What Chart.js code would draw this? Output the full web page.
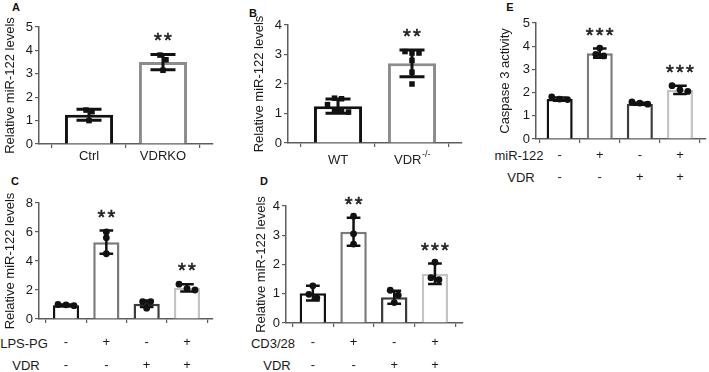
<!DOCTYPE html>
<html><head><meta charset="utf-8">
<script src="https://cdn.jsdelivr.net/npm/chart.js@4/dist/chart.umd.min.js"></script>
<style>
html,body{margin:0;padding:0;background:#fff;width:709px;height:372px;overflow:hidden;position:relative;font-family:"Liberation Sans",Arial,sans-serif;}
canvas{position:absolute;left:0;top:0;}
.lbl{position:absolute;font-size:13px;color:#1a1a1a;transform:translate(-50%,-50%);white-space:nowrap;line-height:1;}
.pl{position:absolute;font-size:11px;font-weight:bold;color:#111;transform:translate(-50%,-50%);line-height:1;}
</style></head><body>
<div class="pl" style="left:16px;top:7px">A</div>
<div class="pl" style="left:253px;top:13px">B</div>
<div class="pl" style="left:15px;top:181px">C</div>
<div class="pl" style="left:264px;top:181px">D</div>
<div class="pl" style="left:510px;top:7px">E</div>
<div class="lbl" style="left:24px;top:343px">LPS-PG</div>
<div class="lbl" style="left:26px;top:365px">VDR</div>
<div class="lbl" style="left:273px;top:343px">CD3/28</div>
<div class="lbl" style="left:277px;top:365px">VDR</div>
<div class="lbl" style="left:519px;top:155px">miR-122</div>
<div class="lbl" style="left:521px;top:177px">VDR</div>
<script>
// ---------------- data ----------------
const catsA = ['Ctrl', 'VDRKO'];
const meansA = [1.25, 3.5];
const sdA = [0.24, 0.33];
const ptsA = [[1.45, 1.38, 1.0], [3.8, 3.6, 3.15]];
const starsA = ['', '**'];
const yTicksA = [0, 1, 2, 3, 4, 5];

const catsB = ['WT', 'VDR'];
const supB = ['', '-/-'];
const meansB = [1.25, 2.7];
const sdB = [0.24, 0.45];
const ptsB = [[1.52, 1.5, 1.3, 1.12, 1.05, 1.1], [3.05, 3.1, 3.05, 2.8, 2.4, 2.0]];
const starsB = ['', '**'];
const yTicksB = [0, 1, 2, 3, 4];

const rowC1 = ['-', '+', '-', '+'];   // LPS-PG
const rowC2 = ['-', '-', '+', '+'];   // VDR
const meansC = [0.95, 5.3, 1.05, 2.15];
const sdC = [0.05, 0.8, 0.22, 0.25];
const ptsC = [[1.0, 0.98, 0.92], [6.0, 5.6, 4.5], [1.2, 1.2, 0.75], [2.4, 2.0, 2.1]];
const starsC = ['', '**', '', '**'];
const yTicksC = [0, 2, 4, 6, 8];

const rowD1 = ['-', '+', '-', '+'];   // CD3/28
const rowD2 = ['-', '-', '+', '+'];   // VDR
const meansD = [1.02, 3.12, 0.88, 1.68];
const sdD = [0.25, 0.48, 0.22, 0.35];
const ptsD = [[1.27, 0.86, 0.98], [3.65, 3.05, 2.7], [1.12, 0.95, 0.7], [2.08, 1.48, 1.55]];
const starsD = ['', '**', '', '***'];
const yTicksD = [0, 1, 2, 3, 4];

const rowE1 = ['-', '+', '-', '+'];   // miR-122
const rowE2 = ['-', '-', '+', '+'];   // VDR
const meansE = [1.72, 3.7, 1.52, 2.12];
const sdE = [0.07, 0.2, 0.04, 0.18];
const ptsE = [[1.82, 1.7, 1.72], [3.92, 3.58, 3.65], [1.6, 1.55, 1.5], [2.3, 2.05, 2.12]];
const starsE = ['', '***', '', '***'];
const yTicksE = [0, 1, 2, 3, 4, 5];

// ---------------- drawing ----------------
Chart.defaults.font.family = '"Liberation Sans", Arial, sans-serif';
const AX = '#5e5e5e';
const C2 = ['#111111', '#8c8c8c'];
const C4 = ['#111111', '#7a7a7a', '#3c3c3c', '#c4c4c4'];

function swarm(vals, pxY, d, thr) {
  const idx = vals.map((v, i) => i).sort((a, b) => vals[b] - vals[a]);
  const offs = new Array(vals.length).fill(0);
  let row = [idx[0]];
  const flush = () => row.forEach((j, k) => { offs[j] = (k - (row.length - 1) / 2) * d; });
  for (let m = 1; m < idx.length; m++) {
    if ((vals[row[row.length - 1]] - vals[idx[m]]) * pxY <= thr) row.push(idx[m]);
    else { flush(); row = [idx[m]]; }
  }
  flush();
  return offs;
}

function decor(cfg) {
  return {
    id: 'decor',
    beforeDatasetDraw(chart, args) {
      if (args.index !== 1) return;
      const ctx = chart.ctx, xs = chart.scales.x, ys = chart.scales.y;
      const bars = chart.getDatasetMeta(0).data;
      ctx.save();
      ctx.strokeStyle = '#111'; ctx.lineWidth = cfg.ew; ctx.lineCap = 'butt';
      cfg.means.forEach((m, i) => {
        const x = xs.getPixelForValue(i);
        const yt = ys.getPixelForValue(m + cfg.sd[i]);
        const yb = ys.getPixelForValue(m - cfg.sd[i]);
        const cw = bars[i].width * 0.52 / 2;
        ctx.beginPath();
        ctx.moveTo(x, yt); ctx.lineTo(x, yb);
        ctx.moveTo(x - cw, yt); ctx.lineTo(x + cw, yt);
        ctx.moveTo(x - cw, yb); ctx.lineTo(x + cw, yb);
        ctx.stroke();
      });
      ctx.restore();
    },
    afterDatasetsDraw(chart) {
      const ctx = chart.ctx, xs = chart.scales.x, ys = chart.scales.y;
      ctx.save();
      ctx.fillStyle = '#222'; ctx.strokeStyle = '#222'; ctx.lineWidth = 0.6;
      ctx.font = '20px "Liberation Sans", Arial, sans-serif';
      ctx.textAlign = 'center'; ctx.textBaseline = 'alphabetic';
      const mt = ctx.measureText('*');
      const cOff = (mt.actualBoundingBoxAscent - mt.actualBoundingBoxDescent) / 2;
      cfg.stars.forEach((s, i) => {
        if (!s) return;
        const x = xs.getPixelForValue(i);
        const yc = ys.getPixelForValue(cfg.means[i] + cfg.sd[i]) - 17;
        for (let k = 0; k < s.length; k++) {
          const sx = x + (k - (s.length - 1) / 2) * 10;
          ctx.fillText('*', sx, yc + cOff);
          ctx.strokeText('*', sx, yc + cOff);
        }
      });
      if (cfg.sup) {
        ctx.fillStyle = '#222';
        ctx.textAlign = 'left'; ctx.textBaseline = 'middle';
        const yl = chart.chartArea.bottom + 17;
        cfg.cats.forEach((c, i) => {
          const x = xs.getPixelForValue(i);
          ctx.font = '13px "Liberation Sans", Arial, sans-serif';
          const w1 = ctx.measureText(c).width;
          ctx.font = '9px "Liberation Sans", Arial, sans-serif';
          const w2 = cfg.sup[i] ? ctx.measureText(cfg.sup[i]).width : 0;
          const x0 = x - (w1 + w2) / 2;
          ctx.font = '13px "Liberation Sans", Arial, sans-serif';
          ctx.fillText(c, x0, yl);
          if (cfg.sup[i]) {
            ctx.font = '9px "Liberation Sans", Arial, sans-serif';
            ctx.fillText(cfg.sup[i], x0 + w1 + 0.5, yl - 5);
          }
        });
      }
      ctx.restore();
    }
  };
}

function makePanel(cfg) {
  const cv = document.createElement('canvas');
  cv.width = 709; cv.height = 372;
  document.body.appendChild(cv);
  const yMin = cfg.yTicks[0], yMax = cfg.yTicks[cfg.yTicks.length - 1];
  const pxX = (cfg.R - cfg.L) / (cfg.xMax - cfg.xMin);
  const pxY = (cfg.B - cfg.T) / (yMax - yMin);
  const scatter = [];
  cfg.pts.forEach((grp, i) => {
    const offs = swarm(grp, pxY, cfg.dot, 5.5);
    grp.forEach((v, k) => scatter.push({ x: i + offs[k] / pxX, y: v }));
  });
  const gridOpt = { display: true, drawOnChartArea: false, drawTicks: true, tickLength: 4, color: AX, lineWidth: 1.2 };
  const borderOpt = { display: true, color: AX, width: 1.5 };
  new Chart(cv, {
    type: 'bar',
    data: {
      datasets: [
        { type: 'bar', data: cfg.means.map((v, i) => ({ x: i, y: v })), backgroundColor: '#ffffff',
          borderColor: cfg.colors, borderWidth: cfg.bw, barPercentage: 0.65, categoryPercentage: 1, order: 2 },
        { type: 'scatter', data: scatter, pointStyle: cfg.ps, pointRadius: cfg.pr, pointHoverRadius: cfg.pr,
          backgroundColor: '#111', borderColor: '#111', borderWidth: 0, order: 1 }
      ]
    },
    options: {
      responsive: false, animation: false, events: [],
      layout: { padding: { left: cfg.L - cfg.W, right: 709 - cfg.R, top: cfg.T, bottom: 372 - cfg.B - cfg.H } },
      plugins: { legend: { display: false }, tooltip: { enabled: false } },
      scales: {
        x: {
          type: 'linear', min: cfg.xMin, max: cfg.xMax, offset: false,
          afterBuildTicks: s => { s.ticks = cfg.means.map((_, i) => ({ value: i })); },
          afterFit: s => { s.height = cfg.H; },
          ticks: { callback: (v, i) => cfg.xLabels[i], autoSkip: false, maxRotation: 0, minRotation: 0,
                   color: '#1a1a1a', font: { size: 13, lineHeight: cfg.lh }, padding: cfg.xPad },
          grid: gridOpt, border: borderOpt
        },
        y: {
          type: 'linear', min: yMin, max: yMax,
          afterBuildTicks: s => { s.ticks = cfg.yTicks.map(v => ({ value: v })); },
          afterFit: s => { s.width = cfg.W; },
          ticks: { color: '#1a1a1a', font: { size: 13 }, padding: 2 },
          grid: gridOpt, border: borderOpt,
          title: { display: true, text: cfg.yTitle, color: '#1a1a1a', font: { size: 13 }, padding: { top: 2.5, bottom: 0 } }
        }
      }
    },
    plugins: [decor(cfg)]
  });
}

const TITLE = 'Relative miR-122 levels';

makePanel({ L: 39, R: 213, T: 27, B: 144, W: 39, H: 30, xMin: -0.676, xMax: 1.676, xPad: 1, lh: 1.2,
  cats: catsA, xLabels: catsA, means: meansA, sd: sdA, pts: ptsA, stars: starsA, yTicks: yTicksA,
  colors: C2, bw: 3, ew: 3, ps: 'rect', pr: 3.9, dot: 6, yTitle: TITLE });

makePanel({ L: 288, R: 462, T: 25, B: 143, W: 39, H: 30, xMin: -0.676, xMax: 1.676, xPad: 5, lh: 1.2,
  cats: catsB, sup: supB, xLabels: catsB.map(() => ''), means: meansB, sd: sdB, pts: ptsB, stars: starsB, yTicks: yTicksB,
  colors: C2, bw: 3, ew: 3, ps: 'rect', pr: 3.9, dot: 7, yTitle: TITLE });

makePanel({ L: 39, R: 213, T: 203, B: 319, W: 39, H: 50, xMin: -0.67, xMax: 3.645, xPad: 8.5, lh: 1.715,
  cats: rowC1, xLabels: rowC1.map((s, i) => [s, rowC2[i]]), means: meansC, sd: sdC, pts: ptsC, stars: starsC, yTicks: yTicksC,
  colors: C4, bw: 2.5, ew: 2.5, ps: 'circle', pr: 3.4, dot: 8, yTitle: TITLE });

makePanel({ L: 286, R: 463, T: 206, B: 323, W: 35, H: 48, xMin: -0.66, xMax: 3.69, xPad: 4.5, lh: 1.715,
  cats: rowD1, xLabels: rowD1.map((s, i) => [s, rowD2[i]]), means: meansD, sd: sdD, pts: ptsD, stars: starsD, yTicks: yTicksD,
  colors: C4, bw: 2.5, ew: 2.5, ps: 'circle', pr: 3.4, dot: 8, yTitle: TITLE });

makePanel({ L: 536, R: 708, T: 23, B: 139, W: 41, H: 45, xMin: -0.59, xMax: 3.64, xPad: 1, lh: 1.7,
  cats: rowE1, xLabels: rowE1.map((s, i) => [s, rowE2[i]]), means: meansE, sd: sdE, pts: ptsE, stars: starsE, yTicks: yTicksE,
  colors: C4, bw: 2.5, ew: 2.5, ps: 'circle', pr: 3.4, dot: 8, yTitle: 'Caspase 3 activity' });
</script>
</body></html>
